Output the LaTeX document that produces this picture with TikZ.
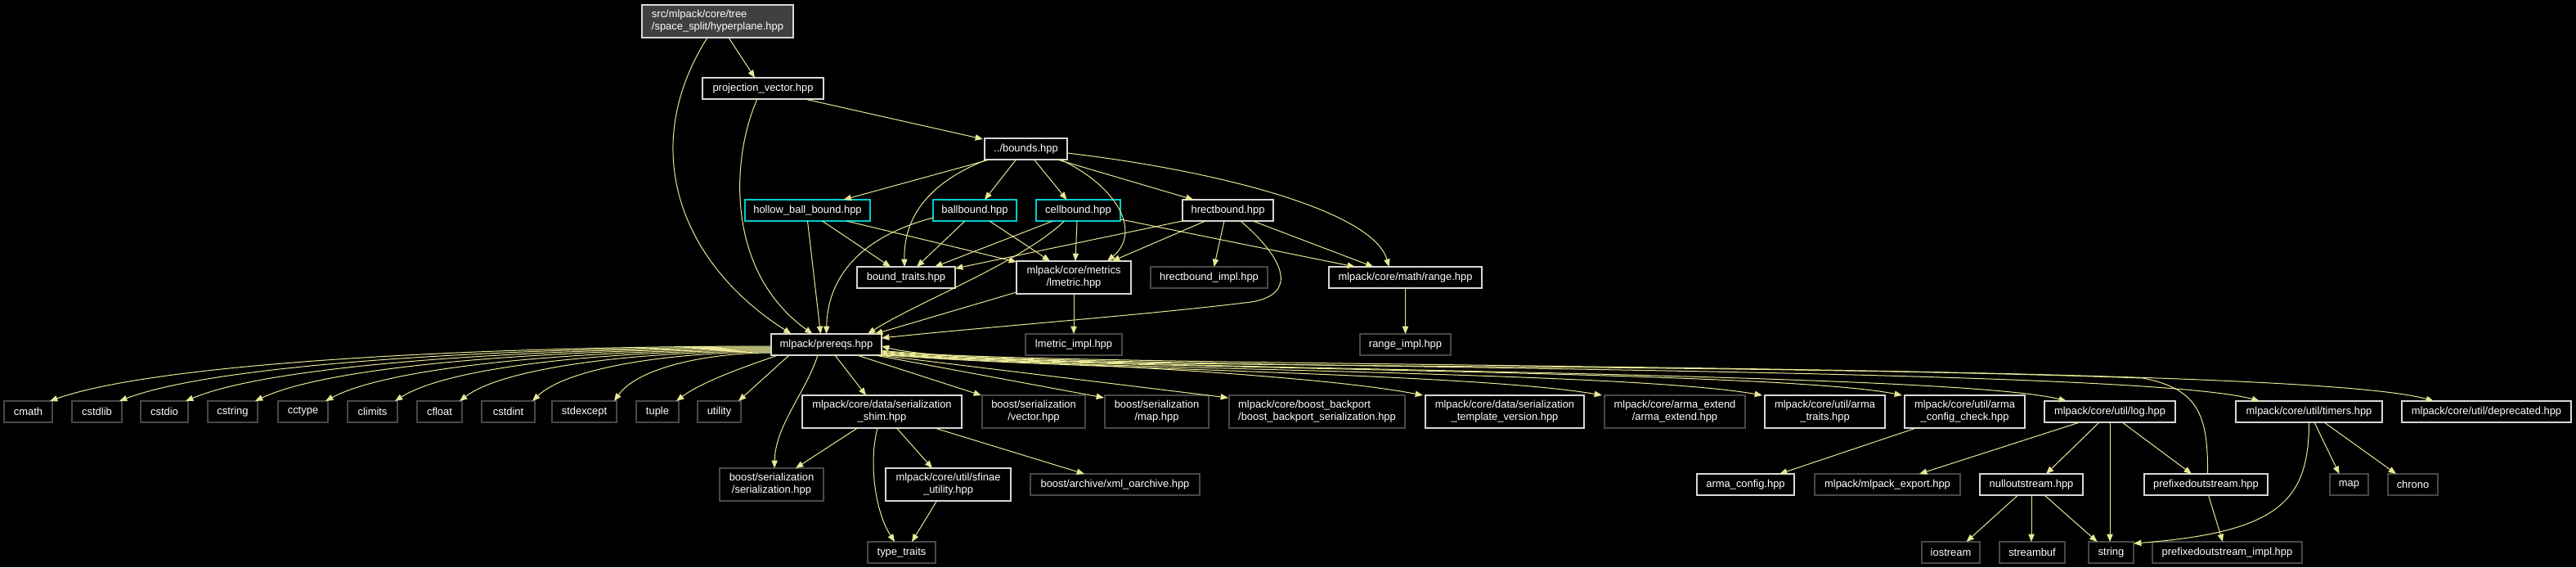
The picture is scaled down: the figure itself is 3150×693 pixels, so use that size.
\documentclass[tikz,border=0pt]{standalone}
\usepackage{fontspec}
\setmainfont{Liberation Sans}
\usetikzlibrary{calc,arrows.meta}
\definecolor{edgec}{RGB}{232,232,150}
\definecolor{docb}{RGB}{215,215,215}
\definecolor{undb}{RGB}{72,72,72}
\definecolor{cyb}{RGB}{0,205,205}
\definecolor{rootf}{RGB}{64,64,64}
\newcommand{\dnode}[7]{%
  \pgfmathsetmacro\dnW{(#5-#3)*0.75}\pgfmathsetmacro\dnH{(#6-#4)*0.75}%
  \node[#1,minimum width=\dnW pt,minimum height=\dnH pt] (#2) at ({(#3+#5)/2},{(#4+#6)/2}) {#7};}
\begin{document}
\begin{tikzpicture}[x=0.75pt,y=-0.75pt, font=\fontsize{9.7}{11.3}\selectfont,
  base/.style={inner sep=0pt, outer sep=0pt, line width=0.9pt, text=white, fill=black, align=center},
  doc/.style={base, draw=docb},
  und/.style={base, draw=undb},
  cyn/.style={base, draw=cyb},
  root/.style={base, draw=docb, fill=rootf, align=left},
  arr/.style={draw=edgec, line width=0.75pt, -{Triangle[length=7pt,width=5.5pt]}}]
\fill[black] (0,0) rectangle (3150,693);
\useasboundingbox (0,0) rectangle (3150,693);
% ---- nodes
\dnode{root}{hyper}{785}{6}{970}{46}{src/mlpack/core/tree\\/space\_split/hyperplane.hpp}
\dnode{doc}{proj}{859}{95}{1007}{121}{projection\_vector.hpp}
\dnode{doc}{bounds}{1204}{169}{1305}{195}{../bounds.hpp}
\dnode{cyn}{hollow}{911}{244}{1064}{270}{hollow\_ball\_bound.hpp}
\dnode{cyn}{ball}{1141}{244}{1243}{270}{ballbound.hpp}
\dnode{cyn}{cell}{1267}{244}{1370}{270}{cellbound.hpp}
\dnode{doc}{hrect}{1446}{244}{1557}{270}{hrectbound.hpp}
\dnode{doc}{btraits}{1048}{326}{1168}{352}{bound\_traits.hpp}
\dnode{doc}{lmetric}{1243}{319}{1383}{359}{mlpack/core/metrics\\/lmetric.hpp}
\dnode{und}{hrimpl}{1407}{326}{1550}{352}{hrectbound\_impl.hpp}
\dnode{doc}{range}{1625}{326}{1812}{352}{mlpack/core/math/range.hpp}
\dnode{doc}{prereqs}{943}{408}{1078}{434}{mlpack/prereqs.hpp}
\dnode{und}{lmimpl}{1254}{408}{1372}{434}{lmetric\_impl.hpp}
\dnode{und}{rimpl}{1663}{408}{1774}{434}{range\_impl.hpp}
% row 3
\dnode{und}{cmath}{5}{490}{64}{516}{cmath}
\dnode{und}{cstdlib}{88}{490}{149}{516}{cstdlib}
\dnode{und}{cstdio}{172}{490}{230}{516}{cstdio}
\dnode{und}{cstring}{254}{490}{315}{516}{cstring}
\dnode{und}{cctype}{340}{490}{401}{516}{cctype}
\dnode{und}{climits}{425}{490}{486}{516}{climits}
\dnode{und}{cfloat}{510}{490}{565}{516}{cfloat}
\dnode{und}{cstdint}{589}{490}{654}{516}{cstdint}
\dnode{und}{stdexcept}{675}{490}{754}{516}{stdexcept}
\dnode{und}{tuple}{778}{490}{830}{516}{tuple}
\dnode{und}{utility}{853}{490}{906}{516}{utility}
\dnode{doc}{shim}{981}{483}{1176}{523}{mlpack/core/data/serialization\\\_shim.hpp}
\dnode{und}{vector}{1201}{483}{1327}{523}{boost/serialization\\/vector.hpp}
\dnode{und}{bmap}{1351}{483}{1478}{523}{boost/serialization\\/map.hpp}
\dnode{und,align=left}{backport}{1503}{483}{1718}{523}{mlpack/core/boost\_backport\\/boost\_backport\_serialization.hpp}
\dnode{doc}{tmplver}{1743}{483}{1937}{523}{mlpack/core/data/serialization\\\_template\_version.hpp}
\dnode{und}{armaext}{1962}{483}{2134}{523}{mlpack/core/arma\_extend\\/arma\_extend.hpp}
\dnode{doc}{armatraits}{2158}{483}{2305}{523}{mlpack/core/util/arma\\\_traits.hpp}
\dnode{doc}{armacc}{2329}{483}{2476}{523}{mlpack/core/util/arma\\\_config\_check.hpp}
\dnode{doc}{log}{2500}{490}{2660}{516}{mlpack/core/util/log.hpp}
\dnode{doc}{timers}{2734}{490}{2913}{516}{mlpack/core/util/timers.hpp}
\dnode{doc}{deprecated}{2937}{490}{3144}{516}{mlpack/core/util/deprecated.hpp}
% row 4
\dnode{und}{sertn}{880}{572}{1007}{612}{boost/serialization\\/serialization.hpp}
\dnode{doc}{sfinae}{1083}{572}{1236}{612}{mlpack/core/util/sfinae\\\_utility.hpp}
\dnode{und}{xml}{1260}{579}{1467}{605}{boost/archive/xml\_oarchive.hpp}
\dnode{doc}{armaconf}{2075}{579}{2194}{605}{arma\_config.hpp}
\dnode{und}{mlexport}{2219}{579}{2397}{605}{mlpack/mlpack\_export.hpp}
\dnode{doc}{nullos}{2421}{579}{2547}{605}{nulloutstream.hpp}
\dnode{doc}{prefixos}{2622}{579}{2773}{605}{prefixedoutstream.hpp}
\dnode{und}{map2}{2849}{579}{2896}{605}{map}
\dnode{und}{chrono}{2920}{579}{2981}{605}{chrono}
% row 5
\dnode{und}{ttraits}{1061}{662}{1144}{688}{type\_traits}
\dnode{und}{iostream}{2350}{662}{2421}{688}{iostream}
\dnode{und}{streambuf}{2445}{662}{2525}{688}{streambuf}
\dnode{und}{string}{2554}{662}{2609}{688}{string}
\dnode{und}{prefimpl}{2632}{662}{2815}{688}{prefixedoutstream\_impl.hpp}
% ---- edges: top part
\draw[arr] ($(hyper.south)+(13.5,0)$) -- ($(proj.north)+(-10,0)$);
\draw[arr] ($(hyper.south)+(-12.5,0)$) .. controls (780,180) and (830,320) .. ($(prereqs.north)+(-43,0)$);
\draw[arr] ($(proj.south)+(-7,0)$) .. controls (895,190) and (885,330) .. ($(prereqs.north)+(-17,0)$);
\draw[arr] ($(proj.south east)+(-23,0)$) -- ($(bounds.north west)+(-2,1)$);
\draw[arr] ($(bounds.south west)+(6,0)$) -- ($(hollow.north)+(44,0)$);
\draw[arr] ($(bounds.south)+(-12,0)$) -- ($(ball.north)+(12,0)$);
\draw[arr] ($(bounds.south)+(10,0)$) -- ($(cell.north)+(-14,0)$);
\draw[arr] ($(bounds.south east)+(-12,0)$) -- ($(hrect.north)+(-42,0)$);
\draw[arr] ($(bounds.south west)+(3,0)$) .. controls (1130,225) and (1105,270) .. ($(btraits.north)+(-2,0)$);
\draw[arr] ($(bounds.south east)+(-8,0)$) .. controls (1370,230) and (1395,285) .. ($(lmetric.north)+(41,0)$);
\draw[arr] ($(bounds.east)+(0,5)$) .. controls (1500,210) and (1680,260) .. ($(range.north)+(-20,0)$);
\draw[arr] (hollow.south) -- ($(prereqs.north)+(-7,0)$);
\draw[arr] ($(hollow.south)+(18,0)$) -- ($(btraits.north)+(-19,0)$);
\draw[arr] ($(hollow.south east)+(-29,0)$) -- ($(lmetric.north west)+(0,1)$);
\draw[arr] ($(ball.south west)+(0,-4)$) .. controls (1050,290) and (1012,340) .. (prereqs.north);
\draw[arr] ($(ball.south)+(-12,0)$) -- ($(btraits.north)+(13,0)$);
\draw[arr] ($(ball.south)+(18,0)$) -- ($(lmetric.north)+(-29,0)$);
\draw[arr] ($(cell.south)+(-31,0)$) -- ($(btraits.north east)+(-25,0)$);
\draw[arr] ($(cell.south)+(-17,0)$) .. controls (1250,320) and (1120,370) .. ($(prereqs.north east)+(-17,0)$);
\draw[arr] ($(cell.south)+(-1.5,0)$) -- ($(lmetric.north)+(2,0)$);
\draw[arr] ($(cell.south east)+(0,-2)$) -- ($(range.north west)+(32,0)$);
\draw[arr] (hrect.south west) -- ($(btraits.north east)+(0,2)$);
\draw[arr] ($(hrect.south)+(-27.5,0)$) -- ($(lmetric.north east)+(-23,0)$);
\draw[arr] ($(hrect.south)+(-4.5,0)$) -- ($(hrimpl.north)+(6,0)$);
\draw[arr] ($(hrect.south)+(15.5,0)$) .. controls (1575,320) and (1585,360) .. (1530,369) .. controls (1400,385) and (1200,400) .. ($(prereqs.north east)+(0,5)$);
\draw[arr] ($(hrect.south east)+(-25,0)$) -- ($(range.north)+(-39,0)$);
\draw[arr] ($(lmetric.south west)+(0,-2)$) -- ($(prereqs.north east)+(-8,0)$);
\draw[arr] (lmetric.south) -- (lmimpl.north);
\draw[arr] (range.south) -- (rimpl.north);
% ---- prereqs left fan
\draw[arr] ($(prereqs.west)+(0,2)$) .. controls (590,423) and (193,443) .. ($(cmath.north east)+(-3,0)$);
\draw[arr] ($(prereqs.west)+(0,3)$) .. controls (624,424) and (266,444) .. ($(cstdlib.north east)+(-3,0)$);
\draw[arr] ($(prereqs.west)+(0,4)$) .. controls (657,425) and (334,445) .. ($(cstdio.north east)+(-3,0)$);
\draw[arr] ($(prereqs.west)+(0,5)$) .. controls (691,426) and (407,445) .. ($(cstring.north east)+(-3,0)$);
\draw[arr] ($(prereqs.west)+(0,6)$) .. controls (725,427) and (480,446) .. ($(cctype.north east)+(-3,0)$);
\draw[arr] ($(prereqs.west)+(0,7)$) .. controls (759,428) and (552,446) .. ($(climits.north east)+(-3,0)$);
\draw[arr] ($(prereqs.west)+(0,8)$) .. controls (791,429) and (619,447) .. ($(cfloat.north east)+(-3,0)$);
\draw[arr] ($(prereqs.west)+(0,9)$) .. controls (826,430) and (695,448) .. ($(cstdint.north east)+(-3,0)$);
\draw[arr] ($(prereqs.west)+(0,10)$) .. controls (866,431) and (780,449) .. ($(stdexcept.north east)+(-3,0)$);
\draw[arr] ($(prereqs.south west)+(8,0)$) .. controls (920,445) and (860,465) .. ($(tuple.north east)+(-3,0)$);
\draw[arr] ($(prereqs.south west)+(22,0)$) -- ($(utility.north east)+(-3,0)$);
% ---- prereqs right fan
\draw[arr] ($(prereqs.east)+(0,7)$) .. controls (1250,452) and (2800,440) .. ($(deprecated.north west)+(39,0)$);
\draw[arr] ($(prereqs.east)+(0,8)$) .. controls (1250,452) and (2600,445) .. ($(timers.north west)+(29,0)$);
\draw[arr] ($(prereqs.east)+(0,9)$) .. controls (1250,452) and (2380,452) .. ($(log.north west)+(27,0)$);
\draw[arr] ($(prereqs.east)+(0,10)$) .. controls (1250,452) and (2160,450) .. ($(armacc.north west)+(-3,0)$);
\draw[arr] ($(prereqs.east)+(0,11)$) .. controls (1250,452) and (1980,452) .. ($(armatraits.north west)+(-3,0)$);
\draw[arr] ($(prereqs.east)+(0,12)$) .. controls (1250,450) and (1800,455) .. ($(armaext.north west)+(-3,0)$);
\draw[arr] (prereqs.south east) .. controls (1350,445) and (1620,460) .. ($(tmplver.north west)+(-3,0)$);
\draw[arr] ($(prereqs.south east)+(-3,0)$) -- ($(backport.north west)+(-1,3)$);
\draw[arr] ($(prereqs.south east)+(-8,0)$) -- ($(bmap.north west)+(-1,3)$);
\draw[arr] ($(prereqs.south)+(37.5,0)$) -- ($(vector.north west)+(-1,0)$);
\draw[arr] ($(prereqs.south)+(10.5,0)$) -- ($(shim.north)+(-19.5,0)$);
\draw[arr] ($(prereqs.south)+(-10.5,0)$) .. controls (985,480) and (948,520) .. ($(sertn.north)+(3.5,0)$);
% ---- shim and sfinae
\draw[arr] ($(shim.south)+(-30,0)$) -- ($(sertn.north east)+(-34,0)$);
\draw[arr] ($(shim.south)+(18,0)$) -- ($(sfinae.north)+(-19.5,0)$);
\draw[arr] ($(shim.south)+(-5.5,0)$) .. controls (1062,565) and (1070,625) .. ($(ttraits.north)+(-8.5,0)$);
\draw[arr] ($(shim.south east)+(-33,0)$) -- ($(xml.north)+(-37.5,0)$);
\draw[arr] ($(sfinae.south)+(-14,0)$) -- ($(ttraits.north)+(12.5,0)$);
% ---- util part
\draw[arr] ($(armacc.south)+(-59.5,0)$) -- ($(armaconf.north)+(41.5,0)$);
\draw[arr] ($(log.south west)+(43,0)$) -- ($(mlexport.north east)+(-50,0)$);
\draw[arr] ($(log.south)+(-13,0)$) -- ($(nullos.north)+(18,0)$);
\draw[arr] (log.south) -- ($(string.north)+(-1.5,0)$);
\draw[arr] ($(log.south)+(15,0)$) -- ($(prefixos.north)+(-17.5,0)$);
\draw[arr] ($(prefixos.north)+(2,0)$) .. controls (2700,510) and (2690,475) .. (2620,462) .. controls (2000,440) and (1200,455) .. ($(prereqs.east)+(0,2)$);
\draw[arr] ($(prefixos.south)+(3,0)$) -- ($(prefimpl.north)+(-5.5,0)$);
\draw[arr] ($(nullos.south)+(-16.5,0)$) -- ($(iostream.north)+(19,0)$);
\draw[arr] (nullos.south) -- ($(streambuf.north)+(-1,0)$);
\draw[arr] ($(nullos.south)+(16,0)$) -- ($(string.north)+(-17,0)$);
\draw[arr] (timers.south) .. controls (2823,610) and (2790,650) .. ($(string.north east)+(0,2)$);
\draw[arr] ($(timers.south)+(6.5,0)$) -- ($(map2.north)+(-12,0)$);
\draw[arr] ($(timers.south)+(18.5,0)$) -- ($(chrono.north)+(-20.5,0)$);
\end{tikzpicture}
\end{document}
